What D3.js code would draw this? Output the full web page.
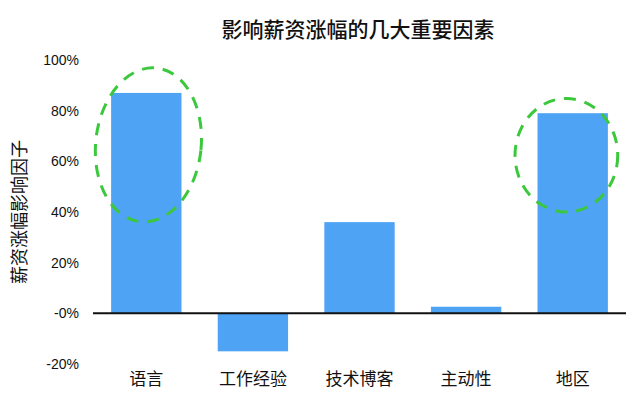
<!DOCTYPE html>
<html>
<head>
<meta charset="utf-8">
<script src="https://cdn.jsdelivr.net/npm/d3@7/dist/d3.min.js"></script>
<style>
  html, body { margin: 0; padding: 0; background: #fff; }
  svg { display: block; }
</style>
</head>
<body>
<svg id="chart" width="642" height="396"></svg>
<script>
// Factors and their effect on salary growth (fraction)
const categories = ["语言", "工作经验", "技术博客", "主动性", "地区"];
const values = [0.87, -0.15, 0.36, 0.026, 0.79];
const yTicks = [-0.2, 0, 0.2, 0.4, 0.6, 0.8, 1.0];
const yTickLabels = ["-20%", "-0%", "20%", "40%", "60%", "80%", "100%"];

// Dashed highlight rings: which factor, and the value span they enclose
const highlightCats = ["语言", "地区"];
const highlightTop = [0.97, 0.848];
const highlightBottom = [0.36, 0.40];
const highlightWidth = [1.5, 1.46];   // in units of bar width
const highlightShift = [0.03, -0.09]; // horizontal nudge, in units of bar width
const highlightTilt = [6, 0];

const titleText = "影响薪资涨幅的几大重要因素";
const yAxisTitle = "薪资涨幅影响因子";

const svg = d3.select("#chart");
const cjk = "'Noto Sans CJK SC', 'Noto Sans', sans-serif";
const latin = "'Liberation Sans', Arial, sans-serif";

const x = d3.scaleBand()
  .domain(categories)
  .range([93, 626])
  .paddingInner(0.34)
  .paddingOuter(0.17);

const y = d3.scaleLinear()
  .domain([-0.2, 1.0])
  .range([364, 60]);

// Title
svg.append("text")
  .attr("x", 358)
  .attr("y", 37)
  .attr("text-anchor", "middle")
  .style("font-family", cjk)
  .style("font-size", "21px")
  .style("font-weight", "500")
  .attr("fill", "#111")
  .text(titleText);

// Y axis (labels only)
const yAxis = d3.axisLeft(y)
  .tickValues(yTicks)
  .tickFormat((d, i) => yTickLabels[i])
  .tickSize(0)
  .tickPadding(0);

const gy = svg.append("g")
  .attr("transform", "translate(79,0)")
  .call(yAxis);
gy.select(".domain").remove();
gy.selectAll("text")
  .style("font-family", latin)
  .style("font-size", "14px")
  .attr("fill", "#111");

// Y axis title
svg.append("text")
  .attr("transform", "translate(26,212) rotate(-90)")
  .attr("text-anchor", "middle")
  .style("font-family", cjk)
  .style("font-size", "18px")
  .attr("fill", "#111")
  .text(yAxisTitle);

// Bars
svg.append("g")
  .selectAll("rect")
  .data(categories.map((c, i) => ({ c, v: values[i] })))
  .join("rect")
  .attr("x", d => x(d.c))
  .attr("width", x.bandwidth())
  .attr("y", d => y(Math.max(0, d.v)))
  .attr("height", d => Math.abs(y(d.v) - y(0)))
  .attr("fill", "#4fa3f5");

// Zero baseline
svg.append("line")
  .attr("x1", x.range()[0])
  .attr("x2", x.range()[1])
  .attr("y1", y(0))
  .attr("y2", y(0))
  .attr("stroke", "#111")
  .attr("stroke-width", 2);

// X axis category labels
const xAxis = d3.axisBottom(x).tickSize(0).tickPadding(0);
const gx = svg.append("g")
  .attr("transform", "translate(0,373)")
  .call(xAxis);
gx.select(".domain").remove();
gx.selectAll("text")
  .style("font-family", cjk)
  .style("font-size", "17px")
  .attr("fill", "#111");

// Dashed highlight rings
svg.append("g")
  .selectAll("ellipse")
  .data(highlightCats.map((c, i) => ({
    c, top: highlightTop[i], bottom: highlightBottom[i],
    w: highlightWidth[i], shift: highlightShift[i], tilt: highlightTilt[i]
  })))
  .join("ellipse")
  .attr("transform", d => {
    const cx = x(d.c) + x.bandwidth() * (0.5 + d.shift);
    const cy = (y(d.top) + y(d.bottom)) / 2;
    return `translate(${cx},${cy}) rotate(${d.tilt})`;
  })
  .attr("rx", d => x.bandwidth() * d.w / 2)
  .attr("ry", d => (y(d.bottom) - y(d.top)) / 2)
  .attr("fill", "none")
  .attr("stroke", "#3cc83c")
  .attr("stroke-width", 3)
  .attr("stroke-dasharray", "12 9");
</script>
</body>
</html>
